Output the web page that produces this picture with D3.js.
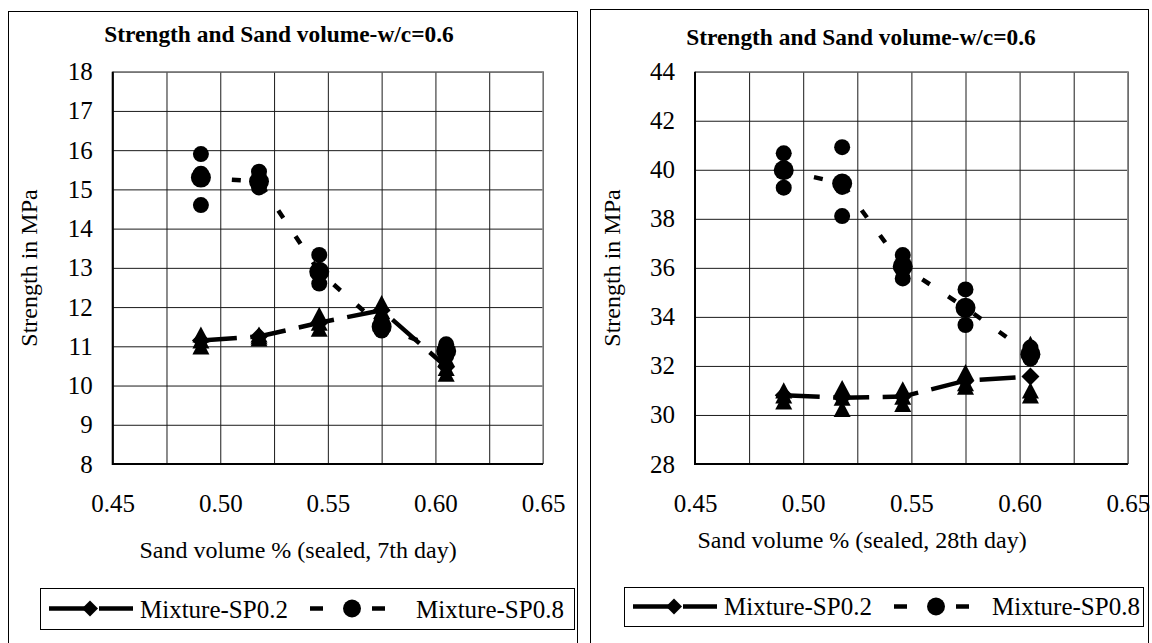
<!DOCTYPE html>
<html>
<head>
<meta charset="utf-8">
<script src="https://cdn.jsdelivr.net/npm/d3@7"></script>
<style>
  body { margin: 0; background: #fff; }
  svg { display: block; }
  svg text { font-family: "Liberation Serif", Tinos, "Times New Roman", Times, serif; fill: #000; }
</style>
</head>
<body>
<svg id="chart" width="1152" height="643"></svg>
<script>
// Sand volume fractions of the five mixes
const sandVolume = [0.491, 0.518, 0.546, 0.575, 0.605];

// x grid every 0.025, labels every 0.05
const xGridValues = [0.45, 0.475, 0.50, 0.525, 0.55, 0.575, 0.60, 0.625, 0.65];
const xTickLabels = [0.45, 0.50, 0.55, 0.60, 0.65];

// 7th day, sealed (MPa)
const day7Ticks = [8, 9, 10, 11, 12, 13, 14, 15, 16, 17, 18];
const sp02Day7Samples = [[11.3, 11.15, 11.0], [11.3, 11.25, 11.2], [11.8, 11.6, 11.45], [12.1, 11.9, 11.75], [10.7, 10.45, 10.3]];
const sp02Day7Mean = [11.15, 11.25, 11.6, 11.92, 10.48];
const sp08Day7Samples = [[15.9, 15.4, 14.6], [15.45, 15.2, 15.05], [13.33, 12.85, 12.6], [11.65, 11.45, 11.4], [11.05, 10.85, 10.75]];
const sp08Day7Mean = [15.3, 15.2, 12.9, 11.5, 10.88];

// 28th day, sealed (MPa)
const day28Ticks = [28, 30, 32, 34, 36, 38, 40, 42, 44];
const sp02Day28Samples = [[31.0, 30.8, 30.55], [31.1, 30.7, 30.25], [31.05, 30.75, 30.45], [31.75, 31.3, 31.15], [32.9, 31.0, 30.8]];
const sp02Day28Mean = [30.8, 30.7, 30.75, 31.4, 31.57];
const sp08Day28Samples = [[40.67, 40.0, 39.27], [40.92, 39.3, 38.11], [36.52, 36.1, 35.57], [35.12, 34.31, 33.67], [32.75, 32.4, 32.3]];
const sp08Day28Mean = [39.98, 39.44, 36.06, 34.37, 32.48];

const titleText = "Strength and Sand volume-w/c=0.6";
const yTitleText = "Strength in MPa";
const seriesNames = ["Mixture-SP0.2", "Mixture-SP0.8"];

const FONT = '"Liberation Serif", Tinos, "Times New Roman", Times, serif';
const svg = d3.select("#chart");

const SP02_DASH = "36,13.5";
const SP08_DASH = "9,22";

function triangle(g, cx, cy, s) {
  const h = s * 0.95;
  g.append("path")
    .attr("d", `M${cx},${cy - h / 2}L${cx + s / 2},${cy + h / 2}L${cx - s / 2},${cy + h / 2}Z`)
    .attr("fill", "#000");
}
function diamond(g, cx, cy, r) {
  g.append("path")
    .attr("d", `M${cx},${cy - r}L${cx + r},${cy}L${cx},${cy + r}L${cx - r},${cy}Z`)
    .attr("fill", "#000");
}
function dot(g, cx, cy, r) {
  g.append("circle").attr("cx", cx).attr("cy", cy).attr("r", r).attr("fill", "#000");
}

function drawPanel(cfg) {
  const g = svg.append("g").attr("font-family", FONT);

  // outer chart frame
  g.append("rect")
    .attr("x", cfg.frame[0] + 0.5).attr("y", cfg.frame[1] + 0.5)
    .attr("width", cfg.frame[2]).attr("height", cfg.frame[3])
    .attr("fill", "none").attr("stroke", "#000").attr("stroke-width", 1);

  const x = d3.scaleLinear().domain([0.45, 0.65]).range([cfg.plot.left, cfg.plot.right]);
  const y = d3.scaleLinear().domain(cfg.yDomain).range([cfg.plot.bottom, cfg.plot.top]);
  const w = cfg.plot.right - cfg.plot.left;
  const h = cfg.plot.bottom - cfg.plot.top;

  // grid lines
  const gridX = g.append("g")
    .attr("transform", `translate(0,${cfg.plot.bottom})`)
    .call(d3.axisBottom(x).tickValues(xGridValues).tickSize(-h).tickFormat(""));
  const gridY = g.append("g")
    .attr("transform", `translate(${cfg.plot.left},0)`)
    .call(d3.axisLeft(y).tickValues(cfg.yTicks).tickSize(-w).tickFormat(""));
  [gridX, gridY].forEach(a => {
    a.select(".domain").remove();
    a.selectAll(".tick line").attr("stroke", "#1a1a1a").attr("stroke-width", 1);
  });

  // plot border: grey top/right, black axes left/bottom
  g.append("path")
    .attr("d", `M${cfg.plot.left},${cfg.plot.top}H${cfg.plot.right}V${cfg.plot.bottom}`)
    .attr("fill", "none").attr("stroke", "#8c8c8c").attr("stroke-width", 1.5);
  g.append("path")
    .attr("d", `M${cfg.plot.left},${cfg.plot.top}V${cfg.plot.bottom}H${cfg.plot.right}`)
    .attr("fill", "none").attr("stroke", "#000").attr("stroke-width", 2);

  // tick labels
  const xLab = g.append("g")
    .attr("transform", `translate(0,${cfg.plot.bottom})`)
    .call(d3.axisBottom(x).tickValues(xTickLabels).tickSize(0).tickPadding(cfg.xPad).tickFormat(d3.format(".2f")));
  const yLab = g.append("g")
    .attr("transform", `translate(${cfg.plot.left},0)`)
    .call(d3.axisLeft(y).tickValues(cfg.yTicks).tickSize(0).tickPadding(cfg.yPad).tickFormat(d3.format("d")));
  [xLab, yLab].forEach(a => {
    a.attr("font-family", FONT).attr("font-size", 25);
    a.select(".domain").remove();
    a.selectAll("text").attr("font-size", 25).attr("font-family", FONT);
  });

  // titles
  g.append("text").attr("x", cfg.title[0]).attr("y", cfg.title[1])
    .attr("text-anchor", "middle").attr("font-size", 23.4).attr("font-weight", "bold")
    .text(titleText);
  g.append("text").attr("x", cfg.xTitle[0]).attr("y", cfg.xTitle[1])
    .attr("text-anchor", "middle").attr("font-size", 24)
    .text(cfg.xTitleText);
  g.append("text")
    .attr("transform", `translate(${cfg.yTitle[0]},${cfg.yTitle[1]}) rotate(-90)`)
    .attr("text-anchor", "middle").attr("font-size", 24)
    .text(yTitleText);

  // mean lines
  const line = d3.line().x(d => x(d[0])).y(d => y(d[1]));
  const sp02Pts = sandVolume.map((v, i) => [v, cfg.sp02Mean[i]]);
  const sp08Pts = sandVolume.map((v, i) => [v, cfg.sp08Mean[i]]);

  // individual specimens
  cfg.sp08Samples.forEach((arr, i) => arr.forEach(v => dot(g, x(sandVolume[i]), y(v), 8)));
  cfg.sp02Samples.forEach((arr, i) => arr.forEach(v => triangle(g, x(sandVolume[i]), y(v), 17)));

  g.append("path").datum(sp08Pts).attr("d", line)
    .attr("fill", "none").attr("stroke", "#000").attr("stroke-width", 4.5)
    .attr("stroke-dasharray", SP08_DASH);
  g.append("path").datum(sp02Pts).attr("d", line)
    .attr("fill", "none").attr("stroke", "#000").attr("stroke-width", 4.5)
    .attr("stroke-dasharray", SP02_DASH);

  sp08Pts.forEach(p => dot(g, x(p[0]), y(p[1]), 10));
  sp02Pts.forEach(p => diamond(g, x(p[0]), y(p[1]), 9));

  // legend
  const L = cfg.legend;
  g.append("rect").attr("x", L.box[0] + 0.5).attr("y", L.box[1] + 0.5)
    .attr("width", L.box[2]).attr("height", L.box[3])
    .attr("fill", "#fff").attr("stroke", "#000").attr("stroke-width", 1);
  const ly = L.box[1] + L.box[3] / 2;
  const bx = L.box[0];
  g.append("line").attr("x1", bx + 9).attr("x2", bx + 93).attr("y1", ly).attr("y2", ly)
    .attr("stroke", "#000").attr("stroke-width", 4.5).attr("stroke-dasharray", "42,8");
  diamond(g, bx + 50, ly, 8);
  g.append("text").attr("x", bx + 100).attr("y", L.baseline).attr("font-size", 25).text(seriesNames[0]);
  g.append("line").attr("x1", bx + 270).attr("x2", bx + 345).attr("y1", ly).attr("y2", ly)
    .attr("stroke", "#000").attr("stroke-width", 4.5).attr("stroke-dasharray", "13,49,13");
  dot(g, bx + 312, ly, 9);
  g.append("text").attr("x", bx + L.text2).attr("y", L.baseline).attr("font-size", 25).text(seriesNames[1]);
}

drawPanel({
  frame: [8, 11, 569, 650],
  plot: { left: 112.7, right: 543, top: 71.7, bottom: 464 },
  yDomain: [8, 18], yTicks: day7Ticks,
  xPad: 30, yPad: 20,
  title: [279, 42], xTitle: [298, 558], xTitleText: "Sand volume % (sealed, 7th day)",
  yTitle: [37, 268],
  sp02Samples: sp02Day7Samples, sp02Mean: sp02Day7Mean,
  sp08Samples: sp08Day7Samples, sp08Mean: sp08Day7Mean,
  legend: { box: [40, 588, 534, 41], baseline: 618, text2: 376 }
});

drawPanel({
  frame: [590, 9, 558, 650],
  plot: { left: 695, right: 1127.8, top: 71.7, bottom: 464 },
  yDomain: [28, 44], yTicks: day28Ticks,
  xPad: 30, yPad: 20,
  title: [861, 45], xTitle: [862, 548], xTitleText: "Sand volume % (sealed, 28th day)",
  yTitle: [620, 268],
  sp02Samples: sp02Day28Samples, sp02Mean: sp02Day28Mean,
  sp08Samples: sp08Day28Samples, sp08Mean: sp08Day28Mean,
  legend: { box: [624, 587, 519, 39], baseline: 615, text2: 368 }
});
</script>
</body>
</html>
